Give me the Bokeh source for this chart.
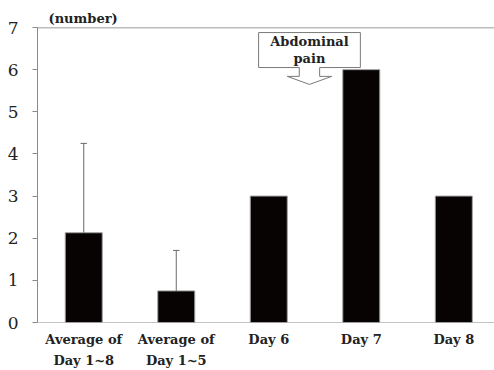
from bokeh.plotting import figure
from bokeh.models import Range1d, Span, Label, ColumnDataSource, FixedTicker, Title
from bokeh.embed import file_html
from bokeh.resources import INLINE

# ---- data ----
categories = ["Average of\nDay 1~8", "Average of\nDay 1~5", "Day 6", "Day 7", "Day 8"]
counts = [2.13, 0.75, 3, 6, 3]
sd = [2.12, 0.96, 0, 0, 0]
y_ticks = [0, 1, 2, 3, 4, 5, 6, 7]
y_label = "(number)"
callout_text = "Abdominal\npain"
callout_index = 3

xs = list(range(len(categories)))

SERIF = "DejaVu Serif"

p = figure(width=494, height=370, output_backend="svg", toolbar_location=None,
           x_range=Range1d(-0.5, 4.44), y_range=Range1d(0, 7),
           min_border_left=37, min_border_right=0, min_border_top=27, min_border_bottom=48)
p.outline_line_color = None
p.xgrid.visible = False
p.ygrid.visible = False
p.background_fill_color = "white"
p.border_fill_color = "white"

ax = p.yaxis[0]
ax.ticker = FixedTicker(ticks=y_ticks)
ax.minor_tick_line_color = None
ax.major_tick_in = 0
ax.major_tick_out = 5
ax.axis_line_color = "#8a8a8a"
ax.major_tick_line_color = "#8a8a8a"
ax.major_label_text_font = SERIF
ax.major_label_text_font_size = "17px"
ax.major_label_text_color = "#222222"
ax.major_label_standoff = 14

xa = p.xaxis[0]
xa.ticker = FixedTicker(ticks=xs)
xa.major_label_overrides = {x: c for x, c in zip(xs, categories)}
xa.minor_tick_line_color = None
xa.major_tick_line_color = None
xa.axis_line_color = None
xa.major_label_text_font = SERIF
xa.major_label_text_font_style = "bold"
xa.major_label_text_font_size = "13px"
xa.major_label_text_color = "#222222"
xa.major_label_text_line_height = 1.4
xa.major_label_standoff = 3

# title "(number)"
t = Title(text=y_label, align="left", offset=11, standoff=3,
          text_font=SERIF, text_font_style="bold", text_font_size="13px",
          text_color="#222222")
p.add_layout(t, "above")

# frame lines
p.add_layout(Span(location=y_ticks[-1], dimension="width", line_color="#7a7a7a", line_width=1.5))
p.add_layout(Span(location=0, dimension="width", line_color="#8a8a8a", line_width=1))

# bars
src = ColumnDataSource(dict(x=xs, top=counts))
p.vbar(x="x", top="top", width=0.4, source=src, fill_color="#070303", line_color="#a0a0a0", line_width=1)

# error bars (upper only)
ex = [x for x, s in zip(xs, sd) if s > 0]
elo = [c for c, s in zip(counts, sd) if s > 0]
ehi = [c + s for c, s in zip(counts, sd) if s > 0]
p.segment(x0=ex, y0=elo, x1=ex, y1=ehi, line_color="#6a6a6a", line_width=1)
cap = 0.035
p.segment(x0=[x - cap for x in ex], y0=ehi, x1=[x + cap for x in ex], y1=ehi, line_color="#6a6a6a", line_width=1)

# callout (down-arrow box) placed relative to the Day 7 bar
cx = xs[callout_index] - 0.56
bl, br = cx - 0.55, cx + 0.55
bt, bb = 6.88, 6.05
sl, sr = cx - 0.11, cx + 0.11
hl, hr = cx - 0.24, cx + 0.24
hb, tip = 5.84, 5.65
px = [bl, br, br, sr, sr, hr, cx, hl, sl, sl, bl]
py = [bt, bt, bb, bb, hb, hb, tip, hb, hb, bb, bb]
p.patch(px, py, fill_color="white", line_color="#7a7a7a", line_width=1)
p.add_layout(Label(x=cx, y=(bt + bb) / 2, text=callout_text, text_align="center",
                   text_baseline="middle", text_font=SERIF, text_font_style="bold",
                   text_font_size="13px", text_color="#222222", text_line_height=1.15))

open("out.html", "w").write(file_html(p, INLINE))
